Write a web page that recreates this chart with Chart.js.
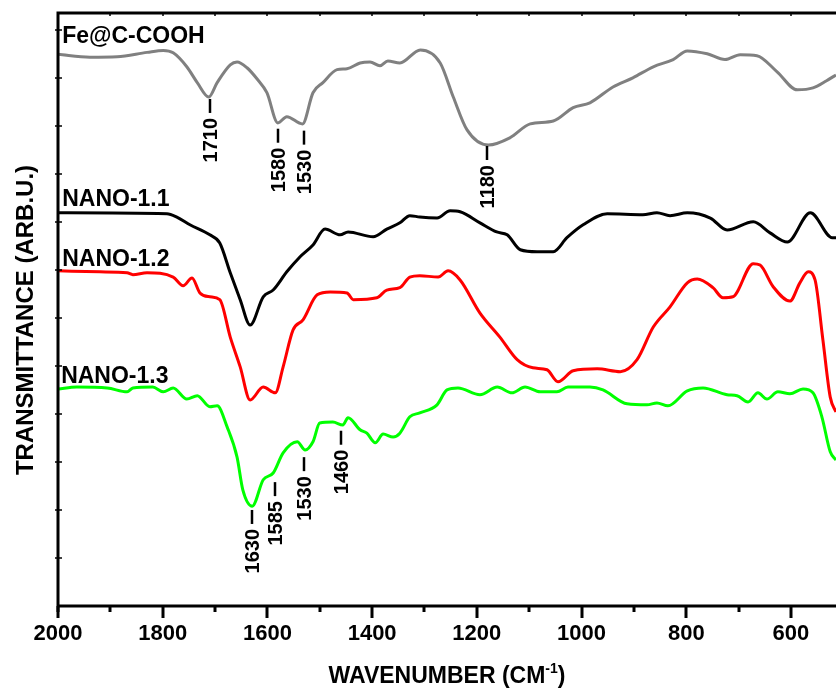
<!DOCTYPE html>
<html>
<head>
<meta charset="utf-8">
<title>FTIR spectra</title>
<script src="https://cdn.jsdelivr.net/npm/chart.js@4.4.1/dist/chart.umd.min.js"></script>
<style>
  html, body { margin: 0; padding: 0; background: #fff; }
  #wrap { width: 836px; height: 688px; position: relative; }
</style>
</head>
<body>
<div id="wrap"><canvas id="ftir"></canvas></div>
<script>
// FTIR spectra (offset stack), wavenumber axis runs high -> low

// Fe@C-COOH (grey)
const feWn = [2000, 1939, 1887, 1830, 1799, 1780, 1754, 1734, 1712, 1696, 1671, 1658, 1639, 1620, 1601,
  1580, 1563, 1533, 1513, 1494, 1467, 1448, 1423, 1404, 1385, 1370, 1347, 1308, 1270, 1245, 1219, 1178,
  1137, 1098, 1054, 1016, 984, 940, 902, 863, 825, 798, 760, 726, 697, 665, 627, 588, 558, 532, 514];
const feT = [11.49, 11.43, 11.44, 11.53, 11.57, 11.52, 11.23, 10.90, 10.60, 10.90, 11.27, 11.33, 11.21, 10.98, 10.69,
  10.06, 10.19, 10.04, 10.69, 10.90, 11.17, 11.19, 11.31, 11.33, 11.25, 11.35, 11.31, 11.58, 11.31, 10.60, 9.92, 9.60,
  9.75, 10.04, 10.10, 10.38, 10.48, 10.81, 11.00, 11.23, 11.38, 11.56, 11.50, 11.38, 11.48, 11.46, 11.13, 10.75, 10.79, 10.94, 11.06];

// NANO-1.1 (black)
const n11Wn = [2000, 1792, 1773, 1748, 1710, 1691, 1671, 1652, 1633, 1608, 1589, 1563, 1538, 1513, 1490, 1461,
  1446, 1398, 1372, 1347, 1328, 1309, 1276, 1251, 1232, 1194, 1162, 1142, 1117, 1085, 1054, 1028, 997, 951,
  883, 856, 831, 798, 754, 722, 672, 640, 607, 563, 521, 514];
const n11T = [8.19, 8.17, 8.10, 7.94, 7.73, 7.56, 6.94, 6.38, 5.85, 6.44, 6.58, 6.96, 7.27, 7.52, 7.85, 7.73,
  7.79, 7.69, 7.85, 7.98, 8.13, 8.10, 8.08, 8.23, 8.21, 7.98, 7.79, 7.73, 7.42, 7.38, 7.38, 7.67, 7.94, 8.17,
  8.15, 8.19, 8.13, 8.19, 8.08, 7.83, 8.00, 7.77, 7.58, 8.19, 7.67, 7.67];

// NANO-1.2 (red)
const n12Wn = [2000, 1920, 1868, 1857, 1830, 1780, 1761, 1744, 1729, 1710, 1691, 1671, 1652, 1633, 1608, 1585,
  1570, 1551, 1532, 1505, 1480, 1448, 1436, 1391, 1372, 1347, 1328, 1309, 1274, 1255, 1232, 1194, 1156, 1123,
  1093, 1066, 1045, 1016, 970, 926, 894, 863, 831, 798, 779, 749, 730, 711, 672, 659, 634, 602, 583, 567,
  554, 539, 525, 514];
const n12T = [6.98, 6.96, 6.94, 6.90, 6.94, 6.85, 6.67, 6.83, 6.52, 6.44, 6.38, 5.60, 4.98, 4.29, 4.56, 4.44,
  4.98, 5.75, 5.96, 6.48, 6.54, 6.52, 6.38, 6.42, 6.58, 6.63, 6.85, 6.88, 6.85, 6.98, 6.79, 6.10, 5.60, 5.13,
  4.96, 4.92, 4.67, 4.90, 4.94, 4.88, 5.13, 5.81, 6.23, 6.73, 6.81, 6.63, 6.42, 6.44, 7.13, 7.10, 6.65, 6.35, 6.73, 6.96,
  6.79, 5.54, 4.35, 4.04];

// NANO-1.3 (green)
const n13Wn = [2000, 1964, 1906, 1868, 1857, 1819, 1799, 1780, 1754, 1734, 1710, 1696, 1677, 1658, 1647, 1629,
  1608, 1589, 1570, 1543, 1528, 1513, 1500, 1475, 1456, 1446, 1423, 1410, 1394, 1379, 1360, 1347, 1328, 1309,
  1276, 1257, 1236, 1194, 1161, 1133, 1108, 1079, 1047, 1026, 984, 959, 913, 875, 856, 835, 798, 768, 722,
  703, 682, 663, 646, 625, 602, 577, 558, 541, 525, 514];
const n13T = [4.52, 4.56, 4.54, 4.46, 4.54, 4.56, 4.46, 4.54, 4.31, 4.38, 4.15, 4.17, 3.73, 3.10, 2.42, 2.08,
  2.63, 2.77, 3.19, 3.42, 3.25, 3.42, 3.81, 3.83, 3.77, 3.92, 3.67, 3.60, 3.40, 3.58, 3.52, 3.60, 3.94, 4.02,
  4.19, 4.50, 4.54, 4.40, 4.56, 4.44, 4.56, 4.46, 4.46, 4.56, 4.56, 4.50, 4.21, 4.19, 4.23, 4.17, 4.48, 4.54, 4.40,
  4.38, 4.25, 4.44, 4.31, 4.46, 4.42, 4.52, 4.44, 3.94, 3.21, 3.04];

const seriesNames = ['Fe@C-COOH', 'NANO-1.1', 'NANO-1.2', 'NANO-1.3'];
const xTickValues = [2000, 1800, 1600, 1400, 1200, 1000, 800, 600];

// peak labels
const fePeaks = ['1710', '1580', '1530', '1180'];
const n13Peaks = ['1630', '1585', '1530', '1460'];

// where things sit (data units)
const nameAnchors = [[1992, 11.9], [1992, 8.5], [1992, 7.25], [1994, 4.81]];
const fePeakPos = [[1710, 10.56], [1580, 9.94], [1530, 9.90], [1180, 9.58]];
const n13PeakPos = [[1630, 2.0], [1585, 2.58], [1530, 3.10], [1460, 3.65]];

const FONT = "'Liberation Sans', Arial, sans-serif";

function toPoints(xs, ys) {
  return xs.map((v, i) => ({ x: v, y: ys[i] }));
}

const notesPlugin = {
  id: 'notes',
  afterDatasetsDraw(chart) {
    const { ctx, chartArea: a, scales: { x, y } } = chart;
    ctx.save();
    ctx.strokeStyle = '#000';
    ctx.fillStyle = '#000';

    // frame: left, top, bottom
    ctx.lineWidth = 3;
    ctx.beginPath();
    ctx.moveTo(a.left, a.bottom + 6);
    ctx.lineTo(a.left, a.top);
    ctx.lineTo(a.right + 2, a.top);
    ctx.moveTo(a.left - 1.5, a.bottom);
    ctx.lineTo(a.right + 2, a.bottom);
    ctx.stroke();

    // x ticks every 100, bottom outward, top inward
    for (let v = 2000; v >= x.min; v -= 100) {
      const px = Math.round(x.getPixelForValue(v));
      ctx.lineWidth = 3;
      ctx.beginPath();
      ctx.moveTo(px, a.bottom);
      ctx.lineTo(px, a.bottom + (v % 200 === 0 ? 12 : 6));
      ctx.stroke();
      ctx.lineWidth = 1.5;
      ctx.beginPath();
      ctx.moveTo(px, a.top);
      ctx.lineTo(px, a.top + 3);
      ctx.stroke();
    }
    // y ticks, tiny
    ctx.lineWidth = 1.5;
    for (let v = 1; v <= y.max; v++) {
      const py = Math.round(y.getPixelForValue(v));
      ctx.beginPath();
      ctx.moveTo(a.left - 3, py);
      ctx.lineTo(a.left + 4, py);
      ctx.stroke();
    }

    // series names
    ctx.font = 'bold 23px ' + FONT;
    ctx.textAlign = 'left';
    ctx.textBaseline = 'alphabetic';
    seriesNames.forEach((name, i) => {
      const px = x.getPixelForValue(nameAnchors[i][0]);
      const py = y.getPixelForValue(nameAnchors[i][1]);
      ctx.fillText(name, px, py + 0.358 * 23);
    });

    // peak marks: short line then rotated number
    const drawPeaks = (labels, pos) => {
      labels.forEach((lab, i) => {
        const px = Math.round(x.getPixelForValue(pos[i][0]));
        const top = y.getPixelForValue(pos[i][1]);
        ctx.lineWidth = 2.5;
        ctx.beginPath();
        ctx.moveTo(px, top);
        ctx.lineTo(px, top + 14);
        ctx.stroke();
        ctx.save();
        ctx.translate(px + 0.358 * 20, top + 19);
        ctx.rotate(-Math.PI / 2);
        ctx.font = 'bold 20px ' + FONT;
        ctx.textAlign = 'right';
        ctx.textBaseline = 'alphabetic';
        ctx.fillText(lab, 0, 0);
        ctx.restore();
      });
    };
    drawPeaks(fePeaks, fePeakPos);
    drawPeaks(n13Peaks, n13PeakPos);

    // x title with superscript
    const cx = (a.left + a.right) / 2;
    const base = 683;
    ctx.textAlign = 'left';
    ctx.font = 'bold 23px ' + FONT;
    const t1 = 'WAVENUMBER (CM';
    const w1 = ctx.measureText(t1).width;
    const w3 = ctx.measureText(')').width;
    ctx.font = 'bold 14px ' + FONT;
    const w2 = ctx.measureText('-1').width;
    let sx = cx - (w1 + w2 + w3) / 2;
    ctx.font = 'bold 23px ' + FONT;
    ctx.fillText(t1, sx, base);
    ctx.font = 'bold 14px ' + FONT;
    ctx.fillText('-1', sx + w1, base - 10);
    ctx.font = 'bold 23px ' + FONT;
    ctx.fillText(')', sx + w1 + w2, base);

    // y title
    ctx.save();
    ctx.translate(24 + 0.358 * 24, 320);
    ctx.rotate(-Math.PI / 2);
    ctx.font = 'bold 24px ' + FONT;
    ctx.textAlign = 'center';
    ctx.fillText('TRANSMITTANCE (ARB.U.)', 0, 0);
    ctx.restore();

    ctx.restore();
  }
};

const chart = new Chart(document.getElementById('ftir'), {
  type: 'line',
  data: {
    datasets: [
      { label: seriesNames[0], data: toPoints(feWn, feT), borderColor: '#808080' },
      { label: seriesNames[1], data: toPoints(n11Wn, n11T), borderColor: '#000000' },
      { label: seriesNames[2], data: toPoints(n12Wn, n12T), borderColor: '#ff0000' },
      { label: seriesNames[3], data: toPoints(n13Wn, n13T), borderColor: '#00ff00' }
    ]
  },
  options: {
    responsive: true,
    maintainAspectRatio: false,
    animation: false,
    devicePixelRatio: 1,
    layout: { padding: { left: 58, top: 13, right: 0, bottom: 0 } },
    elements: {
      line: { borderWidth: 3, cubicInterpolationMode: 'monotone', fill: false },
      point: { radius: 0, hoverRadius: 0 }
    },
    plugins: {
      legend: { display: false },
      tooltip: { enabled: false }
    },
    scales: {
      x: {
        type: 'linear',
        reverse: true,
        min: 514,
        max: 2000,
        afterBuildTicks: axis => {
          axis.ticks = xTickValues.map(v => ({ value: v }));
        },
        afterFit: axis => { axis.height = 82; },
        grid: { display: false, drawTicks: false },
        border: { display: false },
        ticks: {
          color: '#000',
          padding: 15,
          maxRotation: 0,
          autoSkip: false,
          callback: v => String(v),
          font: { family: FONT, size: 22, weight: 'bold' }
        }
      },
      y: {
        display: false,
        min: 0,
        max: 12.35
      }
    }
  },
  plugins: [notesPlugin]
});
</script>
</body>
</html>
